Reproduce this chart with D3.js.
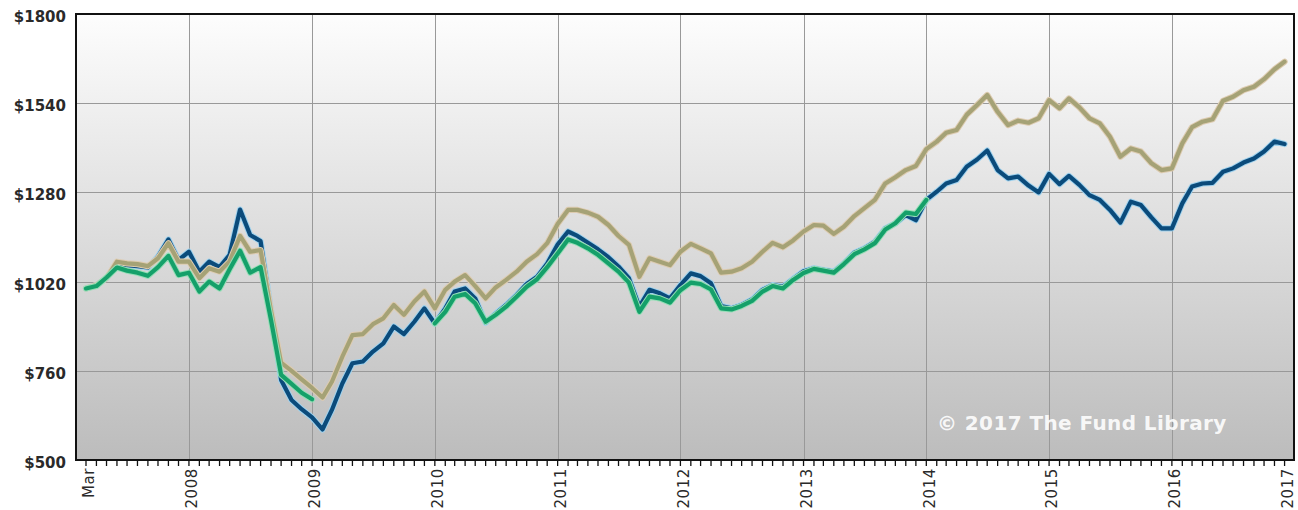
<!DOCTYPE html>
<html>
<head>
<meta charset="utf-8">
<script src="https://cdn.jsdelivr.net/npm/d3@7"></script>
<style>
  body { margin: 0; background: #fff; }
  svg { display: block; }
</style>
</head>
<body>
<div id="chart"></div>
<script>
// monthly values, Mar 2007 .. Dec 2016 (growth of $1000)
const fundValues = [
  1000, 1010, 1030, 1073, 1068, 1065, 1061, 1093, 1143, 1083,
  1107, 1049, 1078, 1062, 1098, 1230, 1156, 1138, 937, 733,
  675, 648, 624, 589, 646, 723, 782, 787, 816, 840,
  889, 867, 903, 942, 898, 942, 991, 1000, 971, 900,
  927, 952, 981, 1013, 1034, 1073, 1128, 1166, 1153, 1133,
  1114, 1091, 1064, 1030, 947, 996, 986, 971, 1010, 1044,
  1036, 1015, 949, 942, 952, 968, 996, 1010, 1005, 1028,
  1050, 1059, 1054, 1049, 1073, 1104, 1117, 1136, 1175, 1190,
  1214, 1199, 1258, 1282, 1306, 1316, 1355, 1376, 1402, 1345,
  1321, 1326, 1300, 1280, 1334, 1304, 1328, 1302, 1272, 1258,
  1229, 1192, 1253, 1243, 1207, 1175, 1175, 1248, 1297, 1306,
  1308, 1340, 1350, 1367, 1379, 1399, 1428, 1421
];

const benchmarkValues = [
  1000, 1010, 1030, 1078, 1073, 1071, 1065, 1088, 1132, 1078,
  1078, 1030, 1059, 1049, 1079, 1153, 1107, 1112, 935, 784,
  760, 735, 710, 682, 728, 801, 864, 867, 896, 913,
  952, 923, 962, 991, 942, 996, 1020, 1039, 1007, 971,
  1003, 1025, 1049, 1078, 1100, 1132, 1188, 1229, 1229, 1221,
  1209, 1185, 1153, 1127, 1034, 1088, 1078, 1068, 1107, 1130,
  1117, 1102, 1046, 1049, 1059, 1078, 1107, 1133, 1120, 1140,
  1166, 1185, 1183, 1159, 1180, 1211, 1234, 1258, 1306, 1324,
  1345, 1357, 1406, 1428, 1454, 1462, 1506, 1535, 1564, 1515,
  1476, 1489, 1483, 1496, 1549, 1525, 1554, 1528, 1496, 1481,
  1442, 1384, 1408, 1399, 1365, 1345, 1350, 1423, 1470, 1486,
  1493, 1547, 1559, 1578, 1588, 1610, 1639, 1661
];

// null = no value for that month
const categoryValues = [
  1000, 1007, 1032, 1061, 1052, 1046, 1037, 1062, 1095, 1039,
  1046, 991, 1020, 1000, 1056, 1110, 1046, 1062, 908, 748,
  722, 696, 677, null, null, null, null, null, null, null,
  null, null, null, null, 898, 932, 976, 984, 957, 903,
  923, 947, 976, 1005, 1027, 1062, 1102, 1143, 1133, 1117,
  1098, 1073, 1049, 1017, 932, 976, 971, 959, 995, 1017,
  1013, 997, 942, 939, 949, 964, 991, 1007, 1000, 1025,
  1045, 1057, 1052, 1046, 1071, 1100, 1114, 1132, 1172, 1190,
  1221, 1217, 1258
];

const yTicks = [500, 760, 1020, 1280, 1540, 1800];
const xLabels = ["Mar", "2008", "2009", "2010", "2011", "2012", "2013", "2014", "2015", "2016", "2017"];
const xLabelMonths = ["2007-03", "2008-01", "2009-01", "2010-01", "2011-01", "2012-01",
  "2013-01", "2014-01", "2015-01", "2016-01", "2017-01"];

const width = 1298, height = 510;
const plot = { left: 76, top: 14, right: 1294, bottom: 460 };

const parseMonth = d3.timeParse("%Y-%m");
const months = d3.timeMonth.range(new Date(2007, 2, 1), new Date(2017, 0, 1));

const x = d3.scaleTime()
  .domain([new Date(2007, 2, 1), new Date(2017, 0, 1)])
  .range([86, 1295]);
const y = d3.scaleLinear()
  .domain([500, 1800])
  .range([plot.bottom, plot.top]);

const svg = d3.select("#chart").append("svg")
  .attr("width", width)
  .attr("height", height);

const defs = svg.append("defs");
const grad = defs.append("linearGradient")
  .attr("id", "bg").attr("x1", 0).attr("y1", 0).attr("x2", 0).attr("y2", 1);
grad.append("stop").attr("offset", "0%").attr("stop-color", "#fdfdfd");
grad.append("stop").attr("offset", "100%").attr("stop-color", "#bcbcbc");

svg.append("rect")
  .attr("x", plot.left).attr("y", plot.top)
  .attr("width", plot.right - plot.left).attr("height", plot.bottom - plot.top)
  .attr("fill", "url(#bg)");

// gridlines
const grid = svg.append("g").attr("stroke", "#999").attr("stroke-width", 1);
grid.selectAll(".hgrid")
  .data(yTicks.slice(1, -1))
  .join("line")
  .attr("x1", plot.left).attr("x2", plot.right)
  .attr("y1", (d) => Math.round(y(d)) + 0.5)
  .attr("y2", (d) => Math.round(y(d)) + 0.5);
grid.selectAll(".vgrid")
  .data(xLabelMonths.slice(1, -1).map(parseMonth))
  .join("line")
  .attr("x1", (d) => Math.round(x(d)) + 0.5)
  .attr("x2", (d) => Math.round(x(d)) + 0.5)
  .attr("y1", plot.top).attr("y2", plot.bottom);

// watermark
svg.append("text")
  .attr("x", 937).attr("y", 430)
  .attr("font-family", "DejaVu Sans, Verdana, sans-serif")
  .attr("font-weight", "bold")
  .attr("font-size", 20)
  .attr("letter-spacing", 0.4)
  .attr("fill", "#ffffff")
  .attr("fill-opacity", 0.9)
  .text("\u00a9 2017 The Fund Library");

// series
const series = [
  { values: fundValues, color: "#0b4b7b", halo: "#9fd2ee" },
  { values: benchmarkValues, color: "#a5a276", halo: "#ddcbb0" },
  { values: categoryValues, color: "#15a06a", halo: "#95deb6" },
];

const line = d3.line()
  .defined((d) => d.v != null)
  .x((d) => x(d.date))
  .y((d) => y(d.v));

series.forEach((s) => {
  const pts = s.values.map((v, i) => ({ date: months[i], v: v }));
  const g = svg.append("g").attr("fill", "none")
    .attr("stroke-linejoin", "round").attr("stroke-linecap", "round");
  g.append("path").datum(pts).attr("d", line)
    .attr("stroke", s.halo).attr("stroke-width", 6.2);
  g.append("path").datum(pts).attr("d", line)
    .attr("stroke", s.color).attr("stroke-width", 4.2);
});

// frame
svg.append("rect")
  .attr("x", plot.left).attr("y", plot.top)
  .attr("width", plot.right - plot.left).attr("height", plot.bottom - plot.top)
  .attr("fill", "none").attr("stroke", "#111").attr("stroke-width", 2);

// month ticks
svg.append("g").attr("stroke", "#111").attr("stroke-width", 1.3)
  .selectAll("line")
  .data(d3.timeMonth.range(new Date(2007, 2, 1), new Date(2017, 0, 1)))
  .join("line")
  .attr("x1", (d) => x(d)).attr("x2", (d) => x(d))
  .attr("y1", plot.bottom).attr("y2", plot.bottom + 6);

// y labels
svg.append("g")
  .attr("font-family", "DejaVu Sans, Verdana, sans-serif")
  .attr("font-weight", "bold")
  .attr("font-size", 15)
  .attr("fill", "#2a2a2a")
  .attr("text-anchor", "end")
  .selectAll("text")
  .data(yTicks)
  .join("text")
  .attr("x", 66)
  .attr("y", (d) => y(d) + 8)
  .text((d) => "$" + d);

// x labels
svg.append("g")
  .attr("font-family", "DejaVu Sans, Verdana, sans-serif")
  .attr("font-size", 15)
  .attr("fill", "#2a2a2a")
  .attr("text-anchor", "end")
  .selectAll("text")
  .data(xLabels)
  .join("text")
  .attr("transform", (d, i) =>
    `translate(${Math.min(x(parseMonth(xLabelMonths[i])) + 3, 1288)},468) rotate(-90)`)
  .attr("dy", "0.35em")
  .attr("letter-spacing", 0.6)
  .text((d) => d);
</script>
</body>
</html>
